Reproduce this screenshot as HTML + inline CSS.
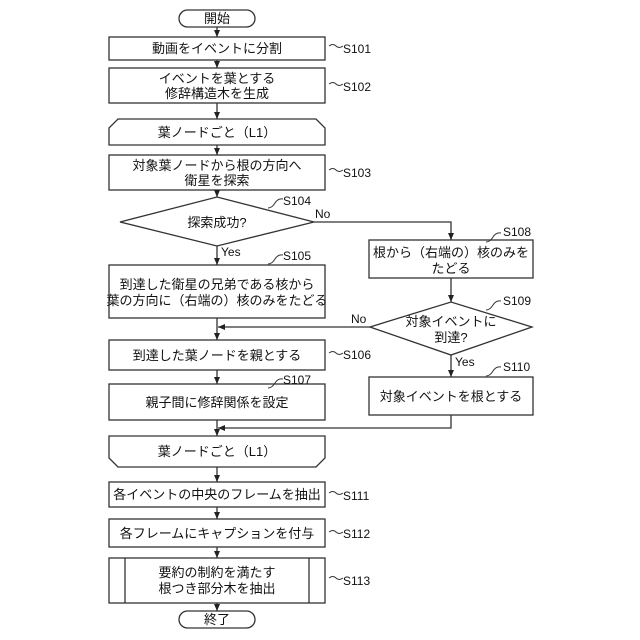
<!DOCTYPE html>
<html><head><meta charset="utf-8"><style>
html,body{margin:0;padding:0;background:#fff}
svg{display:block}
text{font-family:"Liberation Sans","Noto Sans CJK JP",sans-serif;font-size:13px;fill:#111}
.l{font-size:12px}
</style></head><body>
<svg width="640" height="640" viewBox="0 0 640 640" xmlns="http://www.w3.org/2000/svg">
<defs><marker id="a" markerWidth="8" markerHeight="8" refX="7" refY="4" orient="auto" markerUnits="userSpaceOnUse"><path d="M0,1 L7,4 L0,7z" fill="#222"/></marker></defs>
<g fill="none" stroke="#333" stroke-width="1.3">
<rect x="179" y="10" width="76" height="17" rx="8.5"/>
<rect x="109" y="37" width="216" height="23"/>
<rect x="109" y="68" width="216" height="35"/>
<path d="M118,119 L316,119 L325,128 L325,145 L109,145 L109,128Z"/>
<rect x="109" y="155" width="216" height="35"/>
<path d="M120,222 L217,197 L314,222 L217,246Z"/>
<rect x="109" y="265" width="216" height="53"/>
<rect x="109" y="340" width="216" height="30"/>
<rect x="109" y="384" width="216" height="36"/>
<rect x="369" y="240" width="164" height="38"/>
<path d="M370,327 L451,302 L532,327 L451,355Z"/>
<rect x="369" y="377" width="164" height="38"/>
<path d="M109,436 L325,436 L325,458 L316,467 L118,467 L109,458Z"/>
<rect x="109" y="482" width="216" height="25"/>
<rect x="109" y="519" width="216" height="28"/>
<rect x="109" y="558" width="216" height="45"/>
<line x1="125" y1="558" x2="125" y2="603"/><line x1="309" y1="558" x2="309" y2="603"/>
<rect x="179" y="611" width="76" height="17" rx="8.5"/>
</g>
<g stroke="#333" stroke-width="1.3" fill="none" marker-end="url(#a)">
<line x1="217" y1="27" x2="217" y2="37"/>
<line x1="217" y1="60" x2="217" y2="68"/>
<line x1="217" y1="103" x2="217" y2="119"/>
<line x1="217" y1="145" x2="217" y2="155"/>
<line x1="217" y1="190" x2="217" y2="197"/>
<line x1="217" y1="246" x2="217" y2="265"/>
<line x1="217" y1="318" x2="217" y2="340"/>
<line x1="217" y1="370" x2="217" y2="384"/>
<line x1="217" y1="420" x2="217" y2="436"/>
<line x1="217" y1="467" x2="217" y2="482"/>
<line x1="217" y1="507" x2="217" y2="519"/>
<line x1="217" y1="547" x2="217" y2="558"/>
<line x1="217" y1="603" x2="217" y2="611"/>
<polyline points="314,222 451,222 451,240"/>
<line x1="451" y1="278" x2="451" y2="302"/>
<line x1="451" y1="355" x2="451" y2="377"/>
<line x1="370" y1="327" x2="218" y2="327"/>
<polyline points="451,415 451,428 218,428"/>
</g>
<g text-anchor="middle">
<text x="217" y="23">開始</text>
<text x="217" y="53">動画をイベントに分割</text>
<text x="217" y="83">イベントを葉とする</text><text x="217" y="98">修辞構造木を生成</text>
<text x="217" y="137">葉ノードごと（L1）</text>
<text x="217" y="170">対象葉ノードから根の方向へ</text><text x="217" y="185">衛星を探索</text>
<text x="217" y="227">探索成功?</text>
<text x="217" y="289">到達した衛星の兄弟である核から</text><text x="217" y="305">葉の方向に（右端の）核のみをたどる</text>
<text x="217" y="360">到達した葉ノードを親とする</text>
<text x="217" y="407">親子間に修辞関係を設定</text>
<text x="451" y="257">根から（右端の）核のみを</text><text x="451" y="273">たどる</text>
<text x="451" y="326">対象イベントに</text><text x="451" y="342">到達?</text>
<text x="451" y="401">対象イベントを根とする</text>
<text x="217" y="456">葉ノードごと（L1）</text>
<text x="217" y="499">各イベントの中央のフレームを抽出</text>
<text x="217" y="538">各フレームにキャプションを付与</text>
<text x="217" y="577">要約の制約を満たす</text><text x="217" y="593">根つき部分木を抽出</text>
<text x="217" y="624">終了</text>
</g>
<g class="l">
<text class="l" x="315" y="218">No</text>
<text class="l" x="221" y="256">Yes</text>
<text class="l" x="351" y="323">No</text>
<text class="l" x="455" y="366">Yes</text>
<text class="l" x="343" y="53">S101</text>
<text class="l" x="343" y="91">S102</text>
<text class="l" x="343" y="177">S103</text>
<text class="l" x="283" y="205">S104</text>
<text class="l" x="283" y="260">S105</text>
<text class="l" x="343" y="359">S106</text>
<text class="l" x="283" y="384">S107</text>
<text class="l" x="503" y="236">S108</text>
<text class="l" x="503" y="305">S109</text>
<text class="l" x="503" y="371">S110</text>
<text class="l" x="343" y="500">S111</text>
<text class="l" x="343" y="538">S112</text>
<text class="l" x="343" y="585">S113</text>
</g>
<g fill="none" stroke="#333" stroke-width="1">
<path d="M329,46 q4,-3 7,0 t7,0"/>
<path d="M329,84 q4,-3 7,0 t7,0"/>
<path d="M329,170 q4,-3 7,0 t7,0"/>
<path d="M329,353 q4,-3 7,0 t7,0"/>
<path d="M329,493 q4,-3 7,0 t7,0"/>
<path d="M329,532 q4,-3 7,0 t7,0"/>
<path d="M329,578 q4,-3 7,0 t7,0"/>
<path d="M268,208 q4,0 7,-5 t8,-4"/>
<path d="M268,264 q4,0 7,-5 t8,-4"/>
<path d="M268,388 q4,0 7,-5 t8,-4"/>
<path d="M486,242 q4,0 7,-5 t8,-4"/>
<path d="M486,310 q4,0 7,-5 t8,-4"/>
<path d="M486,376 q4,0 7,-5 t8,-4"/>
</g>
</svg>
</body></html>
